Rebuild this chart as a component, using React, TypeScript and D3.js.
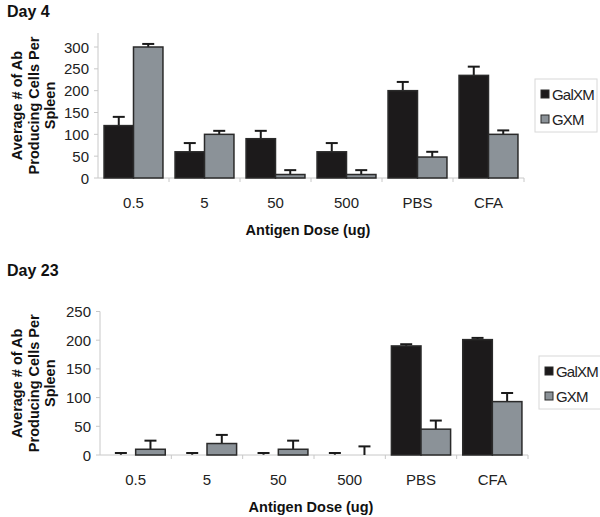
import React from "react";
import * as d3 from "d3";

const categories = ["0.5", "5", "50", "500", "PBS", "CFA"];
const seriesNames = ["GalXM", "GXM"];

const day4GalXM = [120, 60, 90, 60, 200, 235];
const day4GalXMErr = [20, 20, 18, 20, 20, 20];
const day4GXM = [300, 100, 8, 8, 48, 100];
const day4GXMErr = [7, 8, 10, 10, 12, 9];

const day23GalXM = [0.5, 0.5, 0.5, 0.5, 190, 201];
const day23GalXMErr = [3, 3, 3, 3, 3, 3];
const day23GXM = [10, 20, 10, 0, 45, 93];
const day23GXMErr = [15, 15, 15, 15, 15, 15];

const day4Ticks = [0, 50, 100, 150, 200, 250, 300];
const day23Ticks = [0, 50, 100, 150, 200, 250];

const colors = ["#1c1a1b", "#8b9298"];

type PanelProps = {
  title: string;
  top: number;
  x0: number;
  x1: number;
  yBase: number;
  yTopVal: number;
  yTopPx: number;
  axisTopPx: number;
  ticks: number[];
  a: number[];
  aErr: number[];
  b: number[];
  bErr: number[];
  legendX: number;
  legendY: number;
  legendW: number;
  legendH: number;
};

function Panel(p: PanelProps) {
  const y = d3.scaleLinear().domain([0, p.yTopVal]).range([p.yBase, p.yTopPx]);
  const x = d3.scaleBand().domain(categories).range([p.x0, p.x1]).paddingInner(0).paddingOuter(0);
  const inner = d3.scaleBand().domain(seriesNames).range([0, x.bandwidth()]).paddingOuter(0.205).paddingInner(0);
  const vals = [p.a, p.b];
  const errs = [p.aErr, p.bErr];
  const font = "Liberation Sans, Arial, sans-serif";
  const yLabelX = 38;
  const yMid = (p.yBase + p.axisTopPx) / 2;
  return (
    <g>
      <text x={7} y={p.top} fontFamily={font} fontWeight="bold" fontSize={16} fill="#111">{p.title}</text>
      <g transform={`translate(${yLabelX},${yMid}) rotate(-90)`} fontFamily={font} fontWeight="bold" fontSize={14.5} fill="#111" textAnchor="middle">
        <text x={0} y={-16}>Average # of Ab</text>
        <text x={0} y={0.5}>Producing Cells Per</text>
        <text x={0} y={17}>Spleen</text>
      </g>
      {/* y axis */}
      <line x1={p.x0} x2={p.x0} y1={p.axisTopPx} y2={p.yBase} stroke="#c8c8c8" />
      {p.ticks.map((t) => (
        <g key={t}>
          <line x1={p.x0 - 4} x2={p.x0} y1={y(t)} y2={y(t)} stroke="#c8c8c8" />
          <text x={p.x0 - 9} y={y(t) + 5.5} textAnchor="end" fontFamily={font} fontSize={15} fill="#222">{t}</text>
        </g>
      ))}
      {/* x axis */}
      <line x1={p.x0} x2={p.x1} y1={p.yBase} y2={p.yBase} stroke="#c8c8c8" />
      {categories.map((c) => (
        <line key={c} x1={(x(c) as number) + x.bandwidth()} x2={(x(c) as number) + x.bandwidth()} y1={p.yBase} y2={p.yBase + 4} stroke="#c8c8c8" />
      ))}
      {categories.map((c) => (
        <text key={c} x={(x(c) as number) + x.bandwidth() / 2} y={p.yBase + 30} textAnchor="middle" fontFamily={font} fontSize={15} fill="#222">{c}</text>
      ))}
      <text x={(p.x0 + p.x1) / 2 - 3} y={p.yBase + 57} textAnchor="middle" fontFamily={font} fontWeight="bold" fontSize={14.5} fill="#111">Antigen Dose (ug)</text>
      {/* bars */}
      {categories.map((c, i) =>
        seriesNames.map((s, k) => {
          const bx = (x(c) as number) + (inner(s) as number);
          const w = inner.bandwidth();
          const v = vals[k][i];
          const e = errs[k][i];
          const cx = bx + w / 2;
          return (
            <g key={c + s}>
              <line x1={cx} x2={cx} y1={y(v)} y2={y(v + e)} stroke="#1a1a1a" strokeWidth={2} />
              <line x1={cx - 6} x2={cx + 6} y1={y(v + e)} y2={y(v + e)} stroke="#1a1a1a" strokeWidth={2} />
              {v > 0.9 && (
                <rect x={bx} y={y(v)} width={w} height={p.yBase - y(v)} fill={colors[k]} stroke="#2a2a2a" strokeWidth={1.5} />
              )}
            </g>
          );
        })
      )}
      {/* legend */}
      <rect x={p.legendX} y={p.legendY} width={p.legendW} height={p.legendH} fill="white" stroke="#d8d8d8" />
      {seriesNames.map((s, k) => (
        <g key={s}>
          <rect x={p.legendX + 6} y={p.legendY + 11 + k * 25} width={8} height={8} fill={colors[k]} stroke="#2a2a2a" />
          <text x={p.legendX + 17} y={p.legendY + 20.5 + k * 25} fontFamily={font} fontSize={15} fill="#222" letterSpacing={-0.8}>{s}</text>
        </g>
      ))}
    </g>
  );
}

export default function App() {
  return (
    <svg width={600} height={517} style={{ position: "absolute", left: 0, top: 0, background: "white" }}>
      <rect width={600} height={517} fill="white" />
      <Panel
        title="Day 4"
        top={17}
        x0={98}
        x1={524}
        yBase={178}
        yTopVal={300}
        yTopPx={47}
        axisTopPx={33}
        ticks={day4Ticks}
        a={day4GalXM}
        aErr={day4GalXMErr}
        b={day4GXM}
        bErr={day4GXMErr}
        legendX={535}
        legendY={79}
        legendW={62}
        legendH={53}
      />
      <Panel
        title="Day 23"
        top={276}
        x0={100}
        x1={528}
        yBase={455}
        yTopVal={250}
        yTopPx={311.5}
        axisTopPx={311.5}
        ticks={day23Ticks}
        a={day23GalXM}
        aErr={day23GalXMErr}
        b={day23GXM}
        bErr={day23GXMErr}
        legendX={539}
        legendY={356}
        legendW={62}
        legendH={53}
      />
    </svg>
  );
}
